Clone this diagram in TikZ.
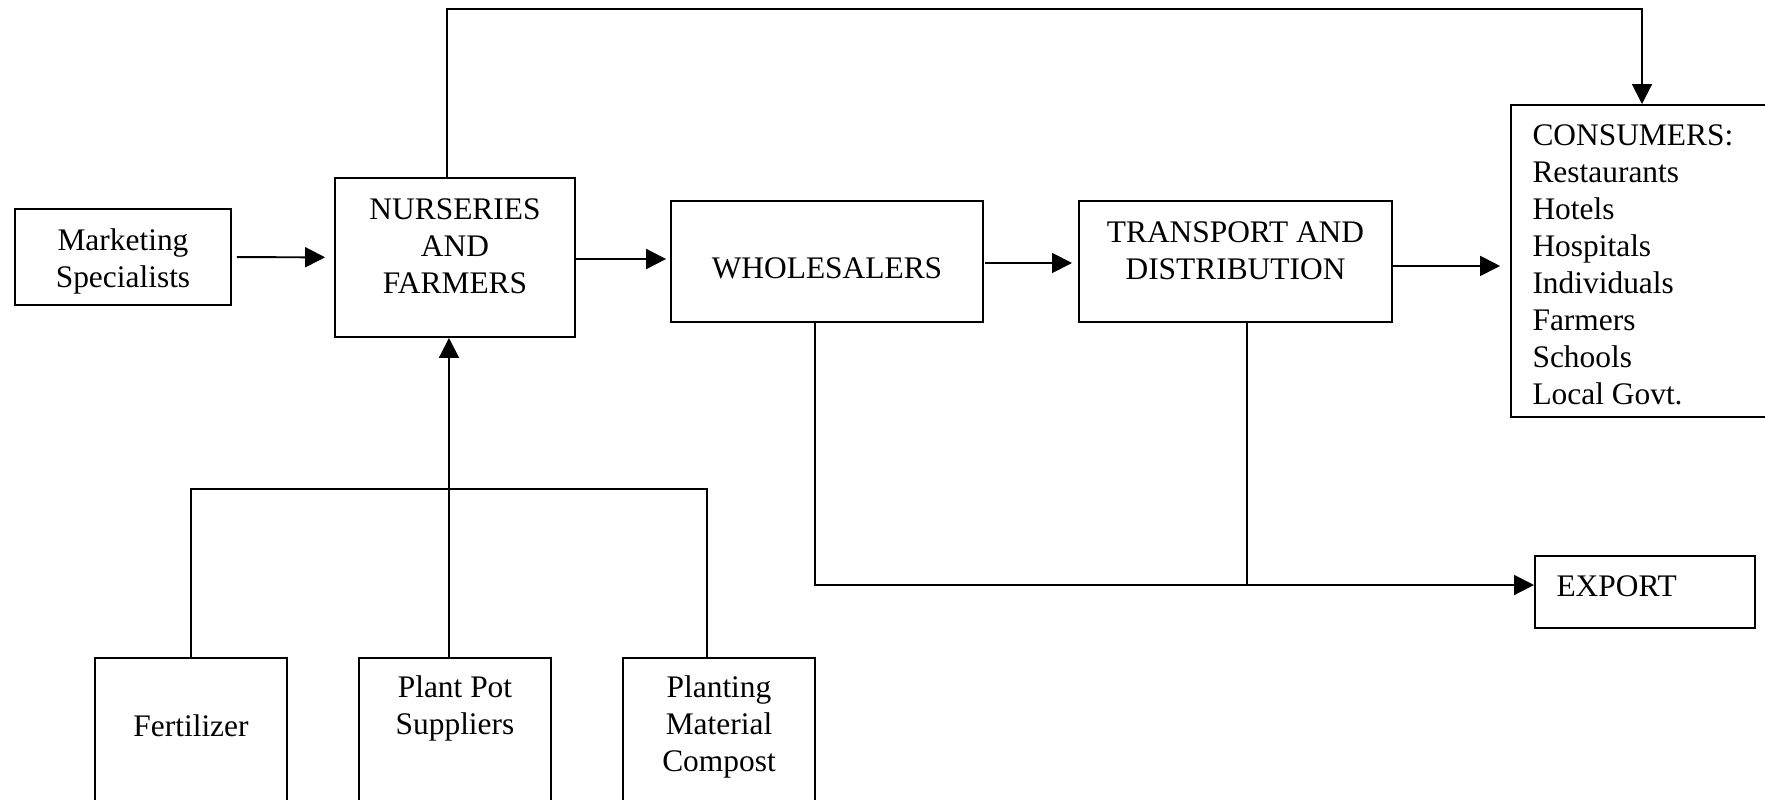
\documentclass[tikz,border=0pt]{standalone}
\usepackage{fontspec}
\setmainfont{Liberation Serif}
\usetikzlibrary{arrows.meta,fit}
\begin{document}
\begin{tikzpicture}[x=0.382pt,y=-0.382pt,
  box/.style={draw,line width=0.75pt,inner sep=0pt},
  lbl/.style={inner sep=0pt,align=center,font=\fontsize{12pt}{14.1pt}\selectfont},
  lbll/.style={lbl,align=left},
  link/.style={line width=0.75pt},
  arr/.style={link,-{Triangle[length=7.6pt,width=7.6pt]}}]
\useasboundingbox (0,0) rectangle (1765,800);

% boxes of the supply chain
\node[box,fit={(15,209)(231,305)}] (mkt) {};
\node[box,fit={(335,178)(575,337)}] (nur) {};
\node[box,fit={(671,201)(983,322)}] (whl) {};
\node[box,fit={(1079,201)(1392,322)}] (trn) {};
\node[box,fit={(1511,105)(1773,417)}] (con) {};
\node[box,fit={(1535,556)(1755,628)}] (exp) {};
\node[box,fit={(95,658)(287,830)}] (fer) {};
\node[box,fit={(359,658)(551,830)}] (pot) {};
\node[box,fit={(623,658)(815,830)}] (pla) {};

% box texts
\node[lbl] (mktT) at (123,261) {Marketing\\Specialists};
\node[lbl] (nurT) at (455,246) {NURSERIES\\AND\\FARMERS};
\node[lbl] (whlT) at (827,268) {WHOLESALERS};
\node[lbl] (trnT) at (1235.5,251) {TRANSPORT AND\\DISTRIBUTION};
\node[lbll,anchor=west] (conT) at (1532,265) {CONSUMERS:\\Restaurants\\Hotels\\Hospitals\\Individuals\\Farmers\\Schools\\Local Govt.};
\node[lbl,anchor=west] (expT) at (1556,586) {EXPORT};
\node[lbl] (ferT) at (191,726) {Fertilizer};
\node[lbl] (potT) at (455,708) {Plant Pot\\Suppliers};
\node[lbl] (plaT) at (719,727) {Planting\\Material\\Compost};

% main flow
\draw[arr,shorten <=1.9pt,shorten >=3.4pt] (mkt) -- (nur);
\coordinate (a1) at ([yshift=0.95pt]whl.west);
\draw[arr,shorten >=1.5pt] (nur.east |- a1) -- (a1);
\coordinate (a2) at ([yshift=-0.57pt]trn.west);
\draw[arr,shorten <=0.5pt,shorten >=2.3pt] (whl.east |- a2) -- (a2);
\coordinate (a3) at ([yshift=-1.7pt]trn.east);
\draw[arr,shorten >=3.8pt] (a3) -- (a3 -| con.west);

% direct sales from nurseries to consumers
\coordinate (topL) at (447,9);
\draw[arr] (nur.north -| topL) -- (topL) -| (con.north);

% export branch
\coordinate (expIn) at ([yshift=2.67pt]exp.west);
\coordinate (whlOut) at ([xshift=-4.58pt]whl.south);
\coordinate (trnOut) at ([xshift=4.4pt]trn.south);
\draw[arr] (whlOut) |- (expIn);
\draw[link] (trnOut) -- (trnOut |- expIn);

% suppliers feeding the nurseries
\coordinate (potOut) at ([xshift=-2.3pt]pot.north);
\coordinate (plaOut) at ([xshift=-4.58pt]pla.north);
\coordinate (bus) at (449,489);
\draw[link] (fer.north) |- (bus) -| (plaOut);
\draw[arr] (potOut) -- (potOut |- nur.south);
\end{tikzpicture}
\end{document}
